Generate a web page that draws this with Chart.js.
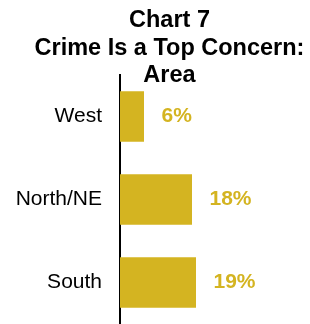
<!DOCTYPE html>
<html>
<head>
<meta charset="utf-8">
<script src="https://cdn.jsdelivr.net/npm/chart.js@4.4.1/dist/chart.umd.min.js"></script>
<style>
  html, body { margin: 0; padding: 0; background: #fff; }
  #wrap { width: 310px; height: 324px; position: relative; }
</style>
</head>
<body>
<div id="wrap"><canvas id="c"></canvas></div>
<script>
const categories = ["West", "North/NE", "South"];
const values = [6, 18, 19];
const titleLines = ["Chart 7", "Crime Is a Top Concern:", "Area"];
const xMax = 25;

const GOLD = "rgb(212,180,33)";
const FONT = "'Liberation Sans', Arial, Helvetica, sans-serif";

const valueLabels = {
  id: "valueLabels",
  afterDatasetsDraw(chart) {
    const ctx = chart.ctx;
    const meta = chart.getDatasetMeta(0);
    ctx.save();
    ctx.font = "bold 21px " + FONT;
    ctx.fillStyle = GOLD;
    ctx.textAlign = "left";
    ctx.textBaseline = "middle";
    meta.data.forEach((bar, i) => {
      ctx.fillText(values[i] + "%", bar.x + 17.5, bar.y);
    });
    ctx.restore();
  }
};

const topTitle = {
  id: "topTitle",
  afterDraw(chart) {
    const ctx = chart.ctx;
    const area = chart.chartArea;
    const cx = (area.left + area.right) / 2 - 0.5;
    ctx.save();
    ctx.font = "bold 23.5px " + FONT;
    ctx.fillStyle = "#000";
    ctx.textAlign = "center";
    ctx.textBaseline = "alphabetic";
    titleLines.forEach((line, i) => {
      ctx.fillText(line, cx, 27 + i * 27.6);
    });
    ctx.restore();
  }
};

new Chart(document.getElementById("c"), {
  type: "bar",
  data: {
    labels: categories,
    datasets: [{
      data: values,
      backgroundColor: GOLD,
      borderWidth: 0,
      barPercentage: 0.607,
      categoryPercentage: 1
    }]
  },
  options: {
    indexAxis: "y",
    responsive: true,
    maintainAspectRatio: false,
    animation: false,
    layout: { padding: { top: 75, right: 90, bottom: -3, left: 0 } },
    plugins: {
      legend: { display: false },
      tooltip: { enabled: false },
      title: { display: false }
    },
    scales: {
      x: {
        display: false,
        min: 0,
        max: xMax
      },
      y: {
        afterFit(scale) {
          scale.width = 120;
          scale.paddingTop = 0;
          scale.paddingBottom = 0;
        },
        grid: { display: false, drawTicks: false },
        border: { display: true, color: "#000", width: 2 },
        ticks: {
          color: "#000",
          padding: 18,
          font: { family: FONT, size: 21 }
        }
      }
    }
  },
  plugins: [valueLabels, topTitle]
});
</script>
</body>
</html>
